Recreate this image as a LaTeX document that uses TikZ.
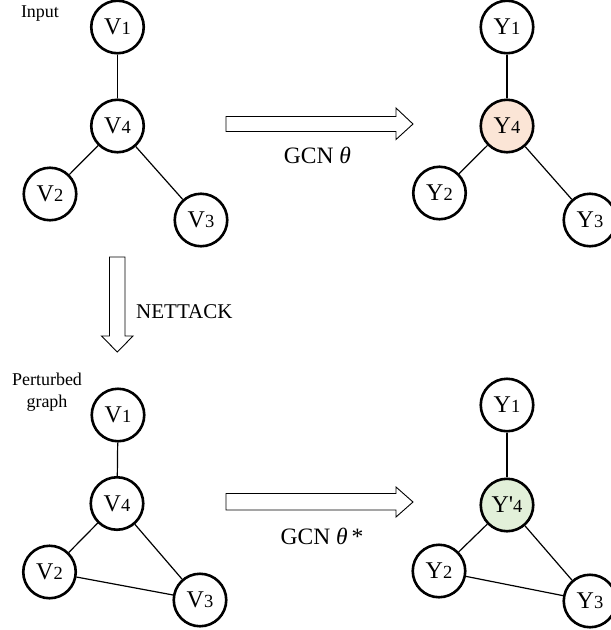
\documentclass[tikz,border=0pt]{standalone}
\usepackage{fontspec}
\setmainfont{Liberation Serif}
\definecolor{peach}{HTML}{FBE5D6}
\definecolor{palegreen}{HTML}{E2F0D9}
\newcommand{\nlab}[2]{{\fontsize{24}{24}\selectfont #1{\fontsize{18.5}{18.5}\selectfont #2}}}
\begin{document}
\begin{tikzpicture}[x=1pt,y=-1pt,
  gnode/.style={circle,draw=black,line width=2.6pt,minimum size=52.5pt,inner sep=0pt,fill=white},
  gedge/.style={line width=1.2pt},
  blockarrow/.style={draw=black,line width=0.9pt,fill=white},
  lab/.style={font=\fontsize{18}{22}\selectfont,align=center,inner sep=0pt},
  biglab/.style={font=\fontsize{23.5}{24}\selectfont,inner sep=0pt}]
\useasboundingbox (0,0) rectangle (611,630);
% top input graph
\node[gnode] (a1) at (117.5,27) {\nlab{V}{1}};
\node[gnode] (a4) at (117.5,126) {\nlab{V}{4}};
\node[gnode] (a2) at (50,194) {\nlab{V}{2}};
\node[gnode] (a3) at (201,220) {\nlab{V}{3}};
\draw[gedge] (a1) -- (a4);
\draw[gedge] (a4) -- (a2);
\draw[gedge] (a4) -- (a3);
% top output graph
\node[gnode] (b1) at (507,27) {\nlab{Y}{1}};
\node[gnode,fill=peach] (b4) at (507,126) {\nlab{Y}{4}};
\node[gnode] (b2) at (439.5,193) {\nlab{Y}{2}};
\node[gnode] (b3) at (590,220) {\nlab{Y}{3}};
\draw[gedge] (b1) -- (b4);
\draw[gedge] (b4) -- (b2);
\draw[gedge] (b4) -- (b3);
% bottom perturbed graph
\node[gnode] (c1) at (118,415) {\nlab{V}{1}};
\node[gnode] (c4) at (117,503.5) {\nlab{V}{4}};
\node[gnode] (c2) at (49.5,572) {\nlab{V}{2}};
\node[gnode] (c3) at (200,600) {\nlab{V}{3}};
\draw[gedge] (c1) -- (c4);
\draw[gedge] (c4) -- (c2);
\draw[gedge] (c4) -- (c3);
\draw[gedge] (c2) -- (c3);
% bottom output graph
\node[gnode] (d1) at (507,405) {\nlab{Y}{1}};
\node[gnode,fill=palegreen] (d4) at (507,505) {\nlab{Y\textquotesingle}{4}};
\node[gnode] (d2) at (439,571) {\nlab{Y}{2}};
\node[gnode] (d3) at (590,601) {\nlab{Y}{3}};
\draw[gedge] (d1) -- (d4);
\draw[gedge] (d4) -- (d2);
\draw[gedge] (d4) -- (d3);
\draw[gedge] (d2) -- (d3);
% block arrows
\draw[blockarrow] (226,116.5) -- (396,116.5) -- (396,108) -- (413,124) -- (396,139.5) -- (396,131.5) -- (226,131.5) -- cycle;
\draw[blockarrow] (226,493.5) -- (396,493.5) -- (396,487) -- (413,502) -- (396,517) -- (396,510) -- (226,510) -- cycle;
\draw[blockarrow] (109.5,257) -- (125,257) -- (125,336) -- (133,336) -- (117.3,352) -- (101.5,336) -- (109.5,336) -- cycle;
% labels
\node[lab] (tin) at (40,14) {Input};
\node[lab] (tpg) at (47,392) {Perturbed\\graph};
\node[biglab] (tg1) at (317.5,155) {GCN {\itshape θ}};
\node[biglab] (tg2) at (322,536) {GCN {\itshape θ}\,*};
\node[font=\fontsize{21}{22}\selectfont,inner sep=0pt,anchor=west] (tnt) at (136,312) {NETTACK};
\end{tikzpicture}
\end{document}
